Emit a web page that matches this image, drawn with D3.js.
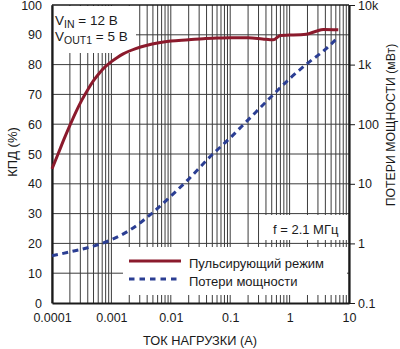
<!DOCTYPE html>
<html lang="ru">
<head>
  <meta charset="UTF-8">
  <title>КПД и потери мощности</title>
  <script src="https://d3js.org/d3.v7.min.js"></script>
  <style>
    body {
      margin: 0;
      background: #fff;
      font-family: "Liberation Sans", Arial, Helvetica, sans-serif;
    }
    svg text { fill: #1a1a1a; }
  </style>
</head>
<body>
  <div id="chart"></div>

  <script>
    // Load current, A
    const xTicks = [0.0001, 0.001, 0.01, 0.1, 1, 10];
    const xTickLabels = ["0.0001", "0.001", "0.01", "0.1", "1", "10"];
    // Efficiency axis, %
    const yTicks = [0, 10, 20, 30, 40, 50, 60, 70, 80, 90, 100];
    // Power loss axis, mW
    const lossTicks = [0.1, 1, 10, 100, 1000, 10000];
    const lossTickLabels = ["0.1", "1", "10", "100", "1k", "10k"];

    // Efficiency in pulse (burst) mode: [current A, efficiency %]
    const efficiency = [
      [0.0001, 45], [0.000126, 49.9], [0.000158, 54.8], [0.0002, 59.6],
      [0.000251, 64], [0.000316, 68], [0.000398, 71.5], [0.0005, 74.6],
      [0.00063, 77.2], [0.00079, 79.3], [0.001, 81], [0.00126, 82.4],
      [0.00158, 83.6], [0.0025, 85.3], [0.004, 86.5], [0.0063, 87.3],
      [0.01, 87.9], [0.02, 88.3], [0.035, 88.7], [0.06, 88.9],
      [0.1, 89.0], [0.2, 89.0], [0.35, 88.6], [0.53, 88.3],
      [0.7, 89.8], [1.0, 89.9], [1.9, 90.2], [2.8, 91.2],
      [3.7, 91.8], [6.6, 91.7]
    ];

    // Power loss: [current A, loss mW]
    const powerLoss = [
      [0.0001, 0.62], [0.0002, 0.72], [0.0005, 0.9], [0.001, 1.15],
      [0.002, 1.65], [0.005, 3.3], [0.01, 6.2], [0.02, 12],
      [0.05, 31], [0.1, 59], [0.2, 118], [0.5, 295],
      [1, 580], [2, 1050], [4, 1800], [6.6, 2900]
    ];

    const width = 400, height = 349;
    const plotL = 52, plotR = 349, plotT = 5, plotB = 303;

    const svg = d3.select("#chart").append("svg")
      .attr("width", width)
      .attr("height", height)
      .style("display", "block");

    const x = d3.scaleLog().domain([0.0001, 10]).range([plotL, plotR]);
    const y = d3.scaleLinear().domain([0, 100]).range([plotB, plotT]);
    const yLoss = d3.scaleLog().domain([0.1, 10000]).range([plotB, plotT]);

    // grid: every 1..9 per decade, every 10 %
    const grid = svg.append("g").attr("stroke", "#3c3c3c").attr("stroke-width", 1);
    grid.selectAll(".vx")
      .data(x.ticks())
      .join("line")
      .attr("x1", d => x(d)).attr("x2", d => x(d))
      .attr("y1", plotT).attr("y2", plotB);
    grid.selectAll(".hy")
      .data(yTicks.slice(1, -1))
      .join("line")
      .attr("x1", plotL).attr("x2", plotR)
      .attr("y1", d => y(d)).attr("y2", d => y(d));

    // white panels behind the annotation texts
    const panels = [
      [plotL + 1, plotT + 1, 136, 53],
      [123, 247, 347, 295],
      [263, 215, 347, 240]
    ];
    svg.append("g").selectAll("rect")
      .data(panels)
      .join("rect")
      .attr("x", d => d[0]).attr("y", d => d[1])
      .attr("width", d => d[2] - d[0]).attr("height", d => d[3] - d[1])
      .attr("fill", "#fff");

    // frame
    svg.append("line")
      .attr("x1", plotL).attr("x2", plotR).attr("y1", plotT).attr("y2", plotT)
      .attr("stroke", "#1a1a1a").attr("stroke-width", 1.3);

    const axisFont = "12.5px";

    // left axis
    const gLeft = svg.append("g")
      .attr("transform", `translate(${plotL},0)`)
      .call(d3.axisLeft(y).tickValues(yTicks).tickSize(0).tickPadding(10));
    // bottom axis
    const gBottom = svg.append("g")
      .attr("transform", `translate(0,${plotB})`)
      .call(d3.axisBottom(x).tickValues(xTicks).tickSize(0).tickPadding(10)
        .tickFormat((d, i) => xTickLabels[i]));
    // right axis
    const gRight = svg.append("g")
      .attr("transform", `translate(${plotR},0)`)
      .call(d3.axisRight(yLoss).tickValues(lossTicks).tickSize(6).tickSizeOuter(0).tickPadding(3)
        .tickFormat((d, i) => lossTickLabels[i]));

    [gLeft, gBottom, gRight].forEach(g => {
      g.select(".domain").attr("stroke", "#1a1a1a").attr("stroke-width", 2.2);
      g.selectAll(".tick line").attr("stroke", "#1a1a1a").attr("stroke-width", 1);
      g.selectAll("text")
        .attr("font-family", "'Liberation Sans', Arial, sans-serif")
        .attr("font-size", axisFont)
        .attr("fill", "#1a1a1a");
    });

    // curves
    const effLine = d3.line()
      .x(d => x(d[0]))
      .y(d => y(d[1]))
      .curve(d3.curveMonotoneX);
    const lossLine = d3.line()
      .x(d => x(d[0]))
      .y(d => yLoss(d[1]))
      .curve(d3.curveMonotoneX);

    const red = "#8b1a2c", blue = "#2b3e93";

    svg.append("path")
      .datum(powerLoss)
      .attr("d", lossLine)
      .attr("fill", "none")
      .attr("stroke", blue)
      .attr("stroke-width", 3)
      .attr("stroke-dasharray", "6,4.5");

    svg.append("path")
      .datum(efficiency)
      .attr("d", effLine)
      .attr("fill", "none")
      .attr("stroke", red)
      .attr("stroke-width", 3);

    // input / output voltage note
    const note = svg.append("g")
      .attr("font-size", "13.5px");
    const n1 = note.append("text").attr("x", 55).attr("y", 25);
    n1.append("tspan").text("V");
    n1.append("tspan").attr("font-size", "10.5px").attr("dy", 3).text("IN");
    n1.append("tspan").attr("dy", -3).text(" = 12 В");
    const n2 = note.append("text").attr("x", 55).attr("y", 40.5);
    n2.append("tspan").text("V");
    n2.append("tspan").attr("font-size", "10.5px").attr("dy", 3).text("OUT1");
    n2.append("tspan").attr("dy", -3).text(" = 5 В");

    svg.append("text")
      .attr("x", 273).attr("y", 233.5)
      .attr("font-size", "13px")
      .text("f = 2.1 МГц");

    // legend
    const legend = [
      { label: "Пульсирующий режим", color: red, dash: null, y: 261 },
      { label: "Потери мощности", color: blue, dash: "5.5,5", y: 279 }
    ];
    const lg = svg.append("g");
    lg.selectAll("line")
      .data(legend)
      .join("line")
      .attr("x1", 129).attr("x2", 181)
      .attr("y1", d => d.y).attr("y2", d => d.y)
      .attr("stroke", d => d.color)
      .attr("stroke-width", 3)
      .attr("stroke-dasharray", d => d.dash);
    lg.selectAll("text")
      .data(legend)
      .join("text")
      .attr("x", 189)
      .attr("y", d => d.y + 7)
      .attr("font-size", "13px")
      .text(d => d.label);

    // axis titles
    svg.append("text")
      .attr("x", 200).attr("y", 345)
      .attr("text-anchor", "middle")
      .attr("font-size", "12.8px")
      .text("ТОК НАГРУЗКИ (А)");

    svg.append("text")
      .attr("transform", "translate(16.5,152) rotate(-90)")
      .attr("text-anchor", "middle")
      .attr("font-size", "13px")
      .text("КПД (%)");

    svg.append("text")
      .attr("transform", "translate(395,125) rotate(-90)")
      .attr("text-anchor", "middle")
      .attr("font-size", "12.3px")
      .text("ПОТЕРИ МОЩНОСТИ (мВт)");
  </script>
</body>
</html>
